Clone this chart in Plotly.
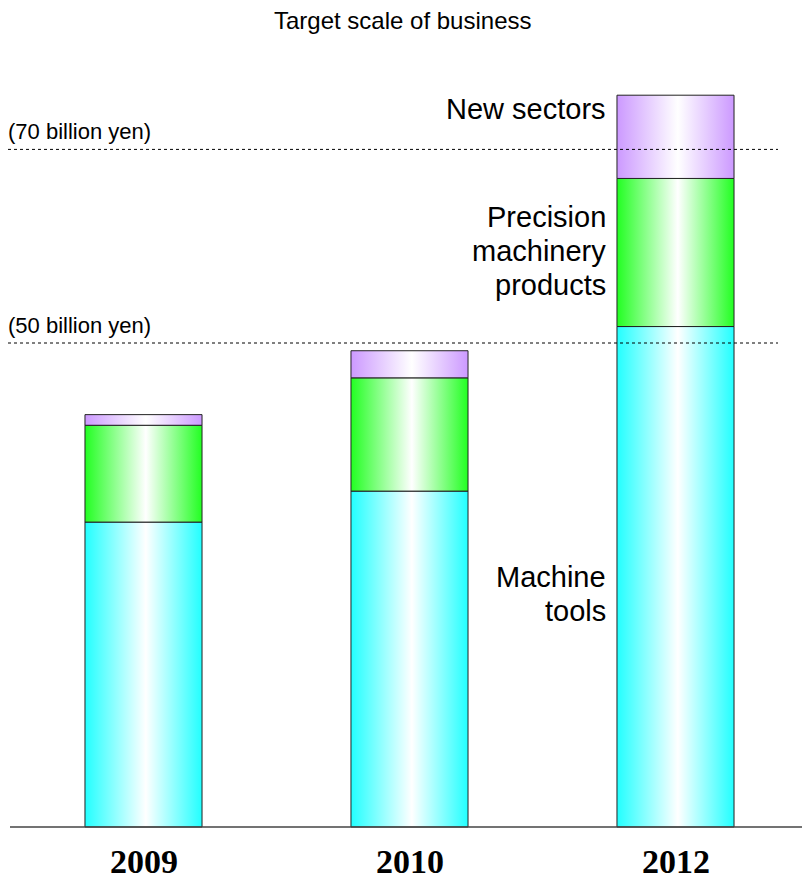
import plotly.graph_objects as go

# Target scale of business, billions of yen
years = ["2009", "2010", "2012"]
machine_tools = [31.5, 34.7, 51.7]
precision_machinery = [10.0, 11.7, 15.3]
new_sectors = [1.1, 2.8, 8.6]
reference_levels = [50, 70]
reference_labels = ["(50 billion yen)", "(70 billion yen)"]

segments = [
    ("Machine tools", machine_tools, "#22FFFF"),
    ("Precision machinery products", precision_machinery, "#22FF22"),
    ("New sectors", new_sectors, "#CC99FF"),
]

BAR_W = 0.44
PX_PER_UNIT = 9.68
W, H = 802, 887
BASE_PX = 827
X0_PX, STEP_PX = 143.5, 266

fig = go.Figure()

# stacked bars drawn as filled rectangles with a horizontal shine gradient
bottoms = [0.0] * len(years)
for name, vals, color in segments:
    for i, v in enumerate(vals):
        x_l, x_r = i - BAR_W / 2, i + BAR_W / 2
        y_b, y_t = bottoms[i], bottoms[i] + v
        fig.add_trace(go.Scatter(
            x=[x_l, x_r, x_r, x_l, x_l],
            y=[y_b, y_b, y_t, y_t, y_b],
            mode="lines",
            fill="toself",
            fillgradient=dict(
                type="horizontal",
                colorscale=[[0, color], [0.52, "#FFFFFF"], [1, color]],
            ),
            line=dict(color="#222222", width=1),
            name=name,
            showlegend=False,
            hoverinfo="skip",
        ))
        bottoms[i] = y_t

sans = "Liberation Sans, Arial"

# dotted reference levels
for lvl, lab in zip(reference_levels, reference_labels):
    fig.add_shape(type="line", xref="paper", yref="y",
                  x0=8 / W, x1=778 / W, y0=lvl, y1=lvl,
                  line=dict(color="#000000", width=1, dash="dot"))
    fig.add_annotation(xref="paper", yref="y", x=6 / W, y=lvl,
                       text=lab, showarrow=False, xanchor="left",
                       yanchor="middle", yshift=18,
                       font=dict(family=sans, size=22, color="#000000"))

# base line
fig.add_shape(type="line", xref="paper", yref="y", x0=10 / W, x1=1, y0=0, y1=0,
              line=dict(color="#444444", width=1.5))

# segment labels beside the 2012 bar, one annotation per text line
seg_font = dict(family=sans, size=29, color="#000000")
last = len(years) - 1
lab_x = last - BAR_W / 2 - 0.034
m, p, n = machine_tools[last], precision_machinery[last], new_sectors[last]
LINE_PX = 34


def side_label(lines, anchor_y, first_shift):
    for k, txt in enumerate(lines):
        fig.add_annotation(x=lab_x, y=anchor_y, text=txt, showarrow=False,
                           xanchor="right", yanchor="middle", align="right",
                           yshift=first_shift - k * LINE_PX, font=seg_font)


side_label(["New sectors"], m + p + n, -14)
side_label(["Precision", "machinery", "products"], m + p, -39)
side_label(["Machine", "tools"], m / 2, 0)

# year labels
for i, yr in enumerate(years):
    fig.add_annotation(x=i, y=0, text="<b>" + yr + "</b>", showarrow=False,
                       yanchor="middle", yshift=-34,
                       font=dict(family="Liberation Serif, Times New Roman", size=34,
                                 color="#000000"))

# title
fig.add_annotation(xref="paper", yref="paper", x=402 / W, y=1 - 21 / H,
                   text="Target scale of business", showarrow=False,
                   xanchor="center", yanchor="middle",
                   font=dict(family=sans, size=24, color="#000000"))

x_lo = -X0_PX / STEP_PX
x_hi = (W - X0_PX) / STEP_PX
y_lo = -(H - BASE_PX) / PX_PER_UNIT
y_hi = BASE_PX / PX_PER_UNIT

fig.update_layout(
    width=W, height=H,
    margin=dict(l=0, r=0, t=0, b=0),
    paper_bgcolor="#FFFFFF", plot_bgcolor="#FFFFFF",
    xaxis=dict(range=[x_lo, x_hi], visible=False, fixedrange=True),
    yaxis=dict(range=[y_lo, y_hi], visible=False, fixedrange=True),
    showlegend=False,
)

fig.write_html("out.html")
